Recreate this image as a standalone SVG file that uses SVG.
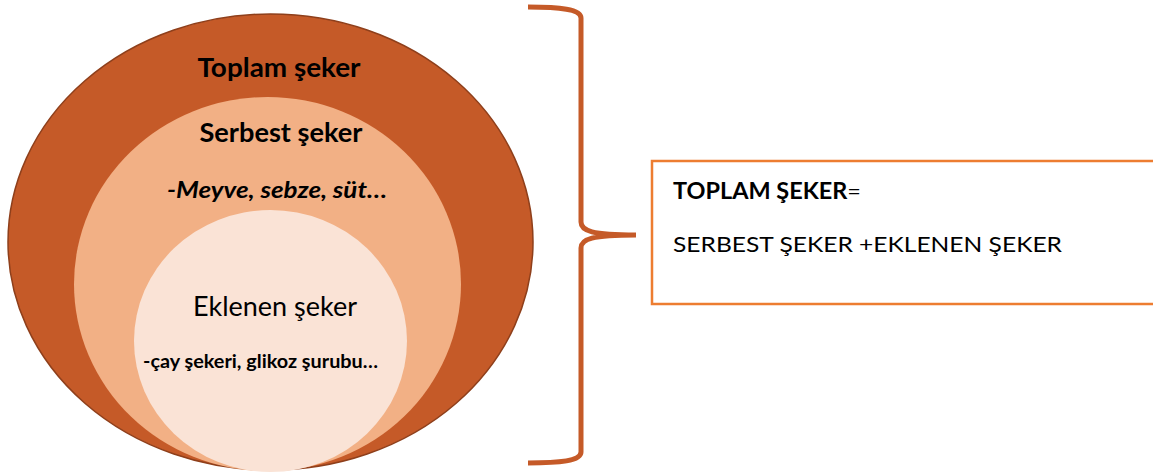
<svg xmlns="http://www.w3.org/2000/svg" width="1153" height="473" viewBox="0 0 1153 473">
<style>
text { font-family: Lato, "Open Sans", "Liberation Sans", sans-serif; fill: #000; }
.b { font-weight: bold; }
.bi { font-weight: bold; font-style: italic; }
</style>
<rect width="1153" height="473" fill="#fff"/>
<g id="toplam">
<ellipse cx="270.5" cy="242" rx="262.5" ry="228" fill="#C55A28" stroke="#8E3F1B" stroke-width="1.5"/>
<text class="b" x="279" y="77" font-size="26" text-anchor="middle" textLength="163" lengthAdjust="spacingAndGlyphs">Toplam şeker</text>
</g>
<g id="serbest">
<ellipse cx="267.5" cy="284" rx="193.5" ry="187" fill="#F2B085"/>
<text class="b" x="281" y="142" font-size="26" text-anchor="middle" textLength="163" lengthAdjust="spacingAndGlyphs">Serbest şeker</text>
<text class="bi" x="277" y="198" font-size="22" text-anchor="middle" textLength="220" lengthAdjust="spacingAndGlyphs">-Meyve, sebze, süt…</text>
</g>
<g id="eklenen">
<ellipse cx="270.5" cy="341" rx="136.5" ry="131" fill="#FAE3D6"/>
<text x="275" y="316" font-size="26" text-anchor="middle" textLength="164" lengthAdjust="spacingAndGlyphs">Eklenen şeker</text>
<text class="b" x="260.5" y="368" font-size="18" text-anchor="middle" textLength="235" lengthAdjust="spacingAndGlyphs">-çay şekeri, glikoz şurubu…</text>
</g>
<g id="connectors">
<path d="M528 7 C560 7 581 9 581 18 L581 222 C581 231 592 235 636 235 C592 235 581 239 581 248 L581 452 C581 461 560 463 528 463" fill="none" stroke="#C55A28" stroke-width="5"/>
</g>
<g id="formula">
<rect x="652" y="161" width="520" height="143" fill="#fff" stroke="#ED7D31" stroke-width="2.5"/>
<text class="b" x="673" y="199" font-size="22" textLength="188" lengthAdjust="spacingAndGlyphs">TOPLAM ŞEKER<tspan font-weight="normal">=</tspan></text>
<text x="673" y="252" font-size="22" textLength="389" lengthAdjust="spacingAndGlyphs">SERBEST ŞEKER +EKLENEN ŞEKER</text>
</g>
</svg>
